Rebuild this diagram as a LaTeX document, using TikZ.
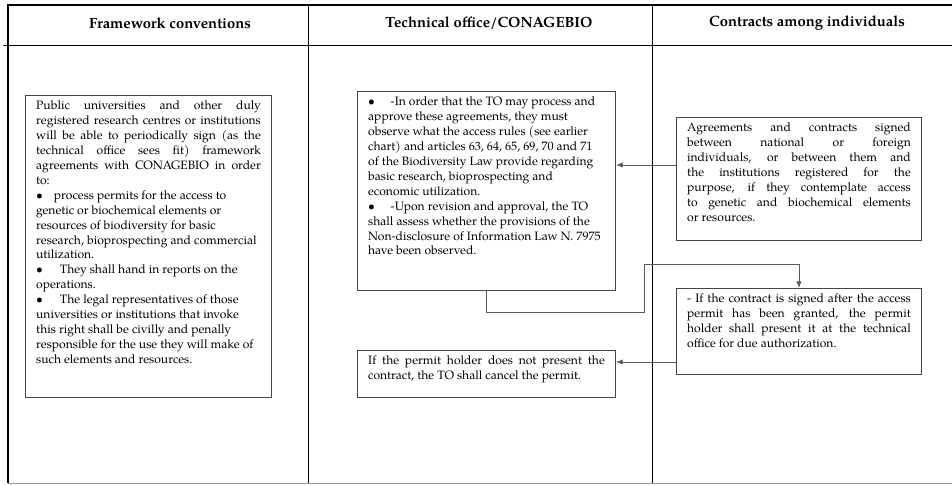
\documentclass[tikz,border=0pt]{standalone}
\usepackage{fontspec}
\setmainfont{TeX Gyre Pagella}
\usetikzlibrary{arrows.meta}

\tikzset{every picture/.style={line width=0.75pt}}
\tikzset{
  cellbox/.style={draw={rgb,255:red,70;green,70;blue,70}, anchor=north west, inner xsep=8pt, inner ysep=4pt, font=\fontsize{9.1}{11.2}\selectfont},
  headtxt/.style={font=\fontsize{11.1}{13}\selectfont\bfseries, inner sep=0.75pt},
  flow/.style={draw={rgb,255:red,90;green,90;blue,90}, line width=0.6pt, -{Latex[length=5pt,width=4pt]}}
}
\newcommand{\celltext}[3]{\begin{minipage}[t][#2][t]{#1}\hyphenpenalty=10000\exhyphenpenalty=10000\emergencystretch=3em #3\end{minipage}}
\newcommand{\raggedcell}{\raggedright\spaceskip=\fontdimen2\font plus \fontdimen3\font minus 0pt\relax}

\begin{document}
\begin{tikzpicture}[x=0.75pt,y=0.75pt,yscale=-1,xscale=1]
\useasboundingbox (0,0) rectangle (952,485);

%Table frame
\draw [line width=2.2pt] (7,5) -- (952,5) ;
\draw [line width=2.2pt] (8,5) -- (8,483) ;
\draw    (3,46) -- (952,46) ;
\draw    (308,5) -- (308,483) ;
\draw    (652,5) -- (652,483) ;
\draw [color={rgb, 255:red, 150; green, 150; blue, 150 }]   (8,483) -- (952,483) ;

% Header text
\node [headtxt] (hframe) at (170,23) {Framework conventions};
\node [headtxt] (hoffice) at (489,23) {Technical office/CONAGEBIO};
\node [headtxt] (hcontr) at (807,23) {Contracts among individuals};

% Framework box
\node [cellbox] (frame) at (25,95) {\celltext{168.5pt}{218.5pt}{Public universities and other duly\linebreak registered research centres or institutions\linebreak will be able to periodically sign (as the\linebreak technical office sees fit) framework\linebreak agreements with CONAGEBIO in order\linebreak to:\par
\raggedcell\textbullet\hspace{0.9em}process permits for the access to genetic or biochemical elements or resources of biodiversity for basic research, bioprospecting and commercial utilization.\par
\textbullet\hspace{1.4em}They shall hand in reports on the operations.\par
\textbullet\hspace{1.4em}The legal representatives of those universities or institutions that invoke this right shall be civilly and penally responsible for the use they will make of such elements and resources.}};

% Technical office boxes
\node [cellbox] (office) at (357,91) {\celltext{177.5pt}{141.25pt}{\raggedcell\textbullet\hspace{1.3em}-In order that the TO may process and approve these agreements, they must observe what the access rules (see earlier chart) and articles 63, 64, 65, 69, 70 and 71 of the Biodiversity Law provide regarding basic research, bioprospecting and economic utilization.\par
\textbullet\hspace{1.3em}-Upon revision and approval, the TO shall assess whether the provisions of the Non-disclosure of Information Law N.~7975 have been observed.}};
\node [cellbox] (cancel) at (357,350) {\celltext{177.5pt}{27.25pt}{If the permit holder does not present the contract, the TO shall cancel the permit.}};

% Contracts boxes
\node [cellbox] (agree) at (676,117) {\celltext{167.75pt}{84.25pt}{Agreements and contracts signed\linebreak between national or foreign\linebreak individuals, or between them and\linebreak the institutions registered for the\linebreak purpose, if they contemplate access\linebreak to genetic and biochemical elements\linebreak or resources.}};
\node [cellbox] (contract) at (676,288) {\celltext{167.75pt}{56.5pt}{- If the contract is signed after the access permit has been granted, the permit holder shall present it at the technical office for due authorization.}};

% Connectors
\draw [flow] (agree.west |- 0,165) -- (office.east |- 0,165) ;
\draw [flow] (office.south) |- (644,312) -- (644,264) -| (contract.north) ;
\draw [flow] (contract.west |- 0,362) -- (cancel.east |- 0,362) ;

\end{tikzpicture}
\end{document}
